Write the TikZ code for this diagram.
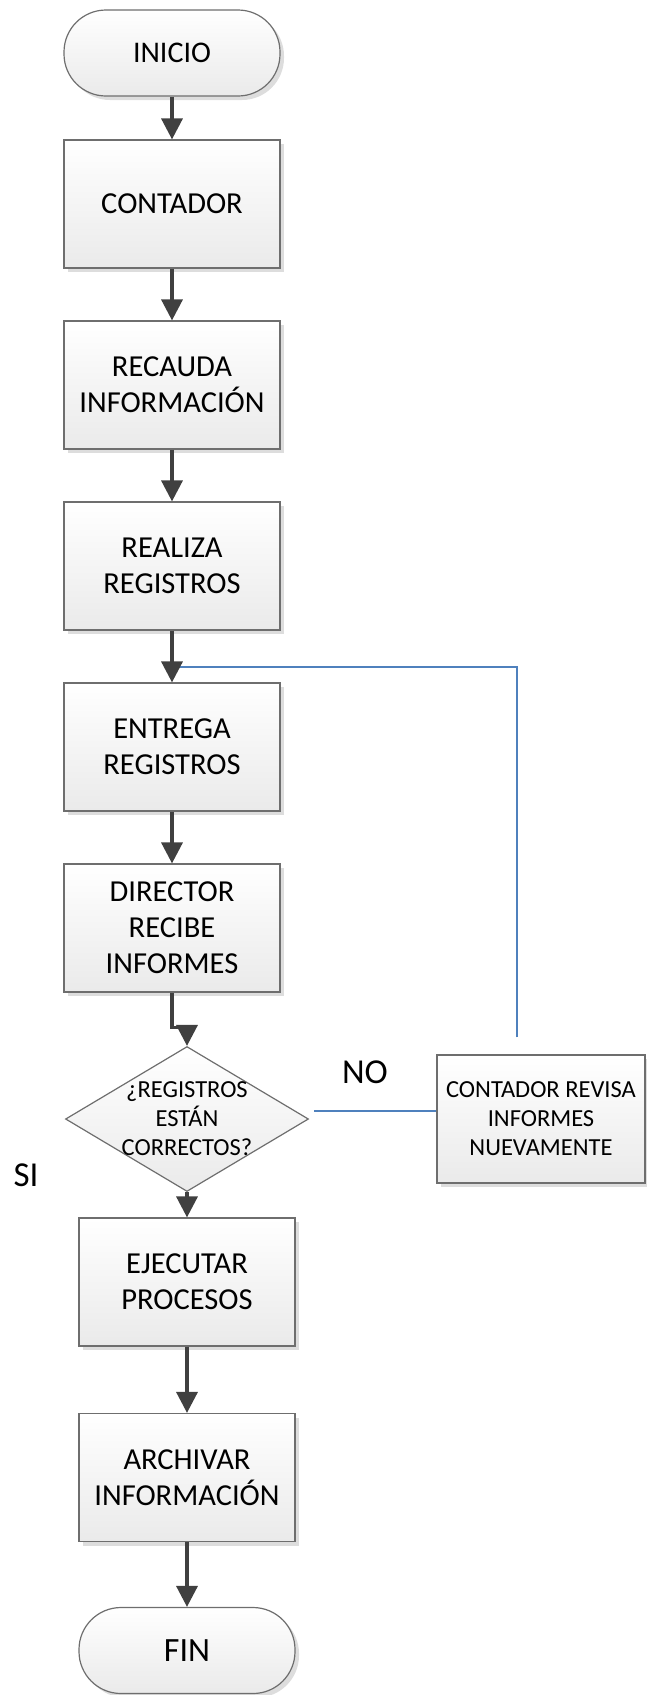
\documentclass[tikz,border=0pt]{standalone}
\usepackage{fontspec}
\setmainfont{Carlito}
\usetikzlibrary{arrows.meta,shapes.geometric,shadows,calc}

\definecolor{edgegray}{HTML}{6E6E6E}
\definecolor{flowgray}{HTML}{404040}
\definecolor{loopblue}{HTML}{4F81BD}
\definecolor{shadegray}{HTML}{EAEAEA}
\definecolor{shadowgray}{HTML}{DDDDDD}

\begin{document}
\begin{tikzpicture}[x=1pt,y=-1pt,
  flowshape/.style={draw=edgegray, line width=1.2pt, top color=white, bottom color=shadegray,
    inner sep=0pt, align=center, text=black,
    drop shadow={shadow xshift=4pt, shadow yshift=-4pt, fill=shadowgray, opacity=1}},
  procbox/.style={flowshape, rectangle, minimum width=216pt, minimum height=128pt,
    font=\fontsize{30.5}{36}\selectfont},
  termbox/.style={flowshape, rectangle, rounded corners=42pt, minimum width=216pt, minimum height=86pt},
  decbox/.style={draw=edgegray, line width=1.2pt, top color=white, bottom color=shadegray,
    diamond, minimum width=243pt, minimum height=145pt, inner sep=0pt},
  smalltext/.style={font=\fontsize{24.5}{29}\selectfont, align=center, text=black},
  flowarrow/.style={draw=flowgray, line width=3.5pt, -{Triangle[length=21pt,width=21pt]}},
  returnline/.style={draw=loopblue, line width=2pt},
  branchlabel/.style={font=\fontsize{35}{42}\selectfont, text=black, inner sep=0pt}
]
\useasboundingbox (0,0) rectangle (646,1695);

% main column
\node[termbox, font=\fontsize{30}{36}\selectfont] (inicio) at (172,53) {INICIO};
\node[procbox] (contador) at (172,204) {CONTADOR};
\node[procbox] (recauda) at (172,385) {RECAUDA\\INFORMACIÓN};
\node[procbox] (realiza) at (172,566) {REALIZA\\REGISTROS};
\node[procbox] (entrega) at (172,747) {ENTREGA\\REGISTROS};
\node[procbox] (director) at (172,928) {DIRECTOR\\RECIBE\\INFORMES};

% decision
\node[decbox] (decision) at (187,1119) {};
\node[smalltext] (decisiontext) at (decision) {¿REGISTROS\\ESTÁN\\CORRECTOS?};

\node[procbox] (ejecutar) at (187,1282) {EJECUTAR\\PROCESOS};
\node[procbox] (archivar) at (187,1477.5) {ARCHIVAR\\INFORMACIÓN};
\node[termbox, font=\fontsize{34}{40}\selectfont] (fin) at (187,1650.5) {FIN};

% review branch
\node[procbox, minimum width=208pt, font=\fontsize{24.5}{29}\selectfont] (revisa) at (541,1119)
  {CONTADOR REVISA\\INFORMES\\NUEVAMENTE};

\node[branchlabel] (no) at (365,1072) {NO};
\node[branchlabel] (si) at (26,1175) {SI};

% return path back into the main column
\coordinate (loopin) at ([xshift=3pt,yshift=15pt]entrega.north);
\coordinate (noout) at ([xshift=5pt,yshift=8pt]decision.east);
\draw[returnline] (noout) -- (noout -| revisa.west);
\draw[returnline] ([xshift=-24pt,yshift=17pt]revisa.north) |- (loopin);

% main flow
\draw[flowarrow] (inicio) -- (contador);
\draw[flowarrow] (contador) -- (recauda);
\draw[flowarrow] (recauda) -- (realiza);
\draw[flowarrow] (realiza) -- (entrega);
\draw[flowarrow] (entrega) -- (director);
\draw[flowarrow] (director.south) -- ++(0,35) -| (decision.north);
\draw[flowarrow] (decision.south) -- (ejecutar.north);
\draw[flowarrow] (ejecutar) -- (archivar);
\draw[flowarrow] (archivar) -- (fin);
\end{tikzpicture}
\end{document}
